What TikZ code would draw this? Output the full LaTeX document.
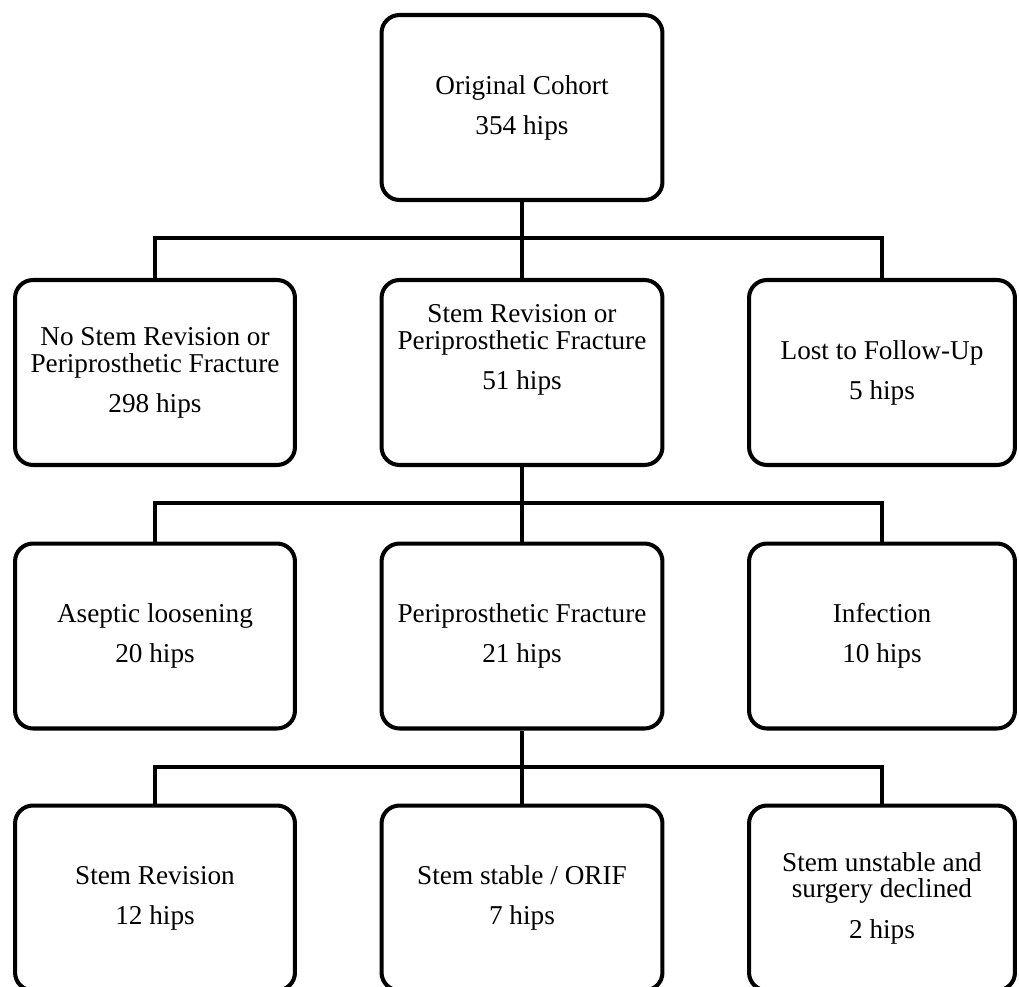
\documentclass[tikz,border=0pt]{standalone}
\usepackage{fontspec}
\setmainfont{Liberation Serif}

\tikzset{
	box/.style={draw, line width=2.3pt, rounded corners=0.36cm, inner sep=0pt,
		minimum width=5.62cm, minimum height=3.7cm, align=center,
		font=\fontsize{15.5}{15.3}\selectfont},
	leftbox/.style={box, minimum width=5.6cm},
	rightbox/.style={box, minimum width=5.32cm},
	link/.style={line width=2.2pt},
}

\begin{document}
\begin{tikzpicture}[x=0.02cm,y=-0.02cm]
	\useasboundingbox (0,0) rectangle (1019,987);
	% level 0
	\node[box] (cohort) at (522,107.5) {Original Cohort\\[7.5pt]354 hips};
	% level 1
	\node[leftbox] (nofx) at (155,372.5) {No Stem Revision or\\Periprosthetic Fracture\\[7.5pt]298 hips};
	\node[box] (stemfx) at (522,372.5) {Stem Revision or\\Periprosthetic Fracture\\[7.5pt]51 hips\\[13.4pt]~};
	\node[rightbox] (lost) at (882,372.5) {Lost to Follow-Up\\[7.5pt]5 hips};
	% level 2
	\node[leftbox] (aseptic) at (155,636) {Aseptic loosening\\[7.5pt]20 hips};
	\node[box] (perifx) at (522,636) {Periprosthetic Fracture\\[7.5pt]21 hips};
	\node[rightbox] (infect) at (882,636) {Infection\\[7.5pt]10 hips};
	% level 3
	\node[leftbox] (revision) at (155,898) {Stem Revision\\[7.5pt]12 hips};
	\node[box] (orif) at (522,898) {Stem stable / ORIF\\[7.5pt]7 hips};
	\node[rightbox] (declined) at (882,898) {Stem unstable and\\surgery declined\\[7.5pt]2 hips};
	% connectors
	\coordinate (j1) at (522,238);
	\coordinate (j2) at (522,503);
	\coordinate (j3) at (522,767);
	\draw[link] (cohort) -- (j1);
	\draw[link] (nofx.north) |- (j1) -| (lost.north);
	\draw[link] (j1) -- (stemfx);
	\draw[link] (stemfx.south) -- (j2);
	\draw[link] (aseptic.north) |- (j2) -| (infect.north);
	\draw[link] (j2) -- (perifx);
	\draw[link] (perifx) -- (j3);
	\draw[link] (revision.north) |- (j3) -| (declined.north);
	\draw[link] (j3) -- (orif);
\end{tikzpicture}
\end{document}
